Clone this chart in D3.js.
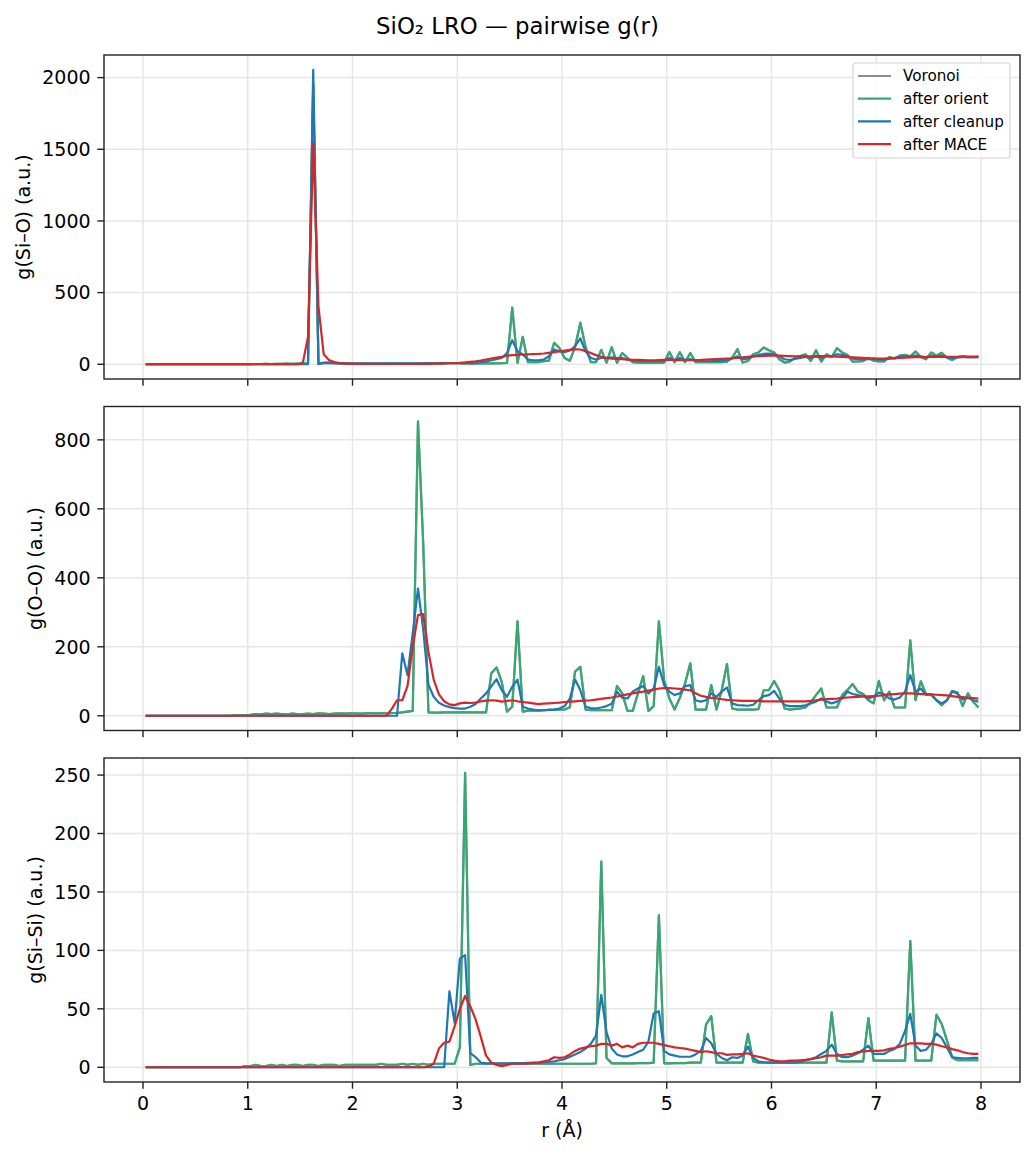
<!DOCTYPE html>
<html><head><meta charset="utf-8">
<script src="https://cdn.jsdelivr.net/npm/d3@7"></script>
<style>
body{margin:0;background:#fff}
svg{display:block}
text{font-family:"DejaVu Sans",sans-serif;fill:#000}
</style>
</head><body>
<svg id="chart" width="1035" height="1157"></svg>
<script>
// ---------- DATA ----------
// histogram bins: centres from 0.025 Å, width 0.05 Å, 160 bins
const binStart = 0.025, binWidth = 0.05, nBins = 160;
const rBins = d3.range(nBins).map(i => +(binStart + binWidth * i).toFixed(3));

const seriesNames = ["Voronoi", "after orient", "after cleanup", "after MACE"];
const xTicks = [0, 1, 2, 3, 4, 5, 6, 7, 8];
const ticksSiO = [0, 500, 1000, 1500, 2000];
const ticksOO = [0, 200, 400, 600, 800];
const ticksSiSi = [0, 50, 100, 150, 200, 250];

// ---- g(Si-O) ----
const orientSiO = [
0,0,0,0,0,0,0,0,0,0,
0,0,0,0,0,0,0,0,0,1,
1,2,2,3,2,3,3,4,3,4,
5,8,1950,5,8,10,8,6,6,5,
5,4,5,4,5,4,5,4,5,5,
5,5,6,5,6,6,7,6,7,8,
6,5,6,5,6,6,7,6,7,9,
395,9,191,14,14,15,21,25,150,114,
44,25,120,290,120,15,15,100,12,119,
9,79,44,15,12,12,12,12,12,12,
86,15,84,15,79,15,15,14,14,15,
15,19,47,105,12,23,70,82,117,98,
82,35,12,19,47,58,70,23,98,19,
70,51,112,82,65,19,20,22,45,25,
20,20,50,40,60,65,55,89,50,35,
82,60,80,45,30,50,55,50,50,50];
const cleanupSiO = [
0,0,0,0,0,0,0,0,0,0,
0,0,0,0,0,0,0,0,0,0,
0,0,0,0,0,0,0,0,0,0,
0,0,2055,0,12,12,8,6,5,5,
5,5,6,5,6,5,6,6,7,6,
6,7,6,7,8,8,8,9,9,9,
9,9,10,12,15,20,28,36,44,79,
168,91,68,33,28,28,33,56,103,91,
84,96,126,180,91,44,33,44,44,49,
44,44,33,26,22,21,21,21,21,22,
44,28,44,30,37,25,22,21,22,24,
26,28,40,55,35,40,55,65,72,74,
70,55,35,30,38,45,52,45,55,45,
55,55,70,65,58,40,35,33,38,35,
32,32,40,45,52,55,55,60,55,48,
58,55,60,50,42,48,50,50,50,52];
const maceSiO = [
0,0,0,0,0,0,0,0,0,0,
0,0,0,0,0,0,0,0,0,0,
0,0,0,0,0,0,0,0,0,0,
8,190,1540,400,70,30,15,8,5,4,
3,3,2,2,2,2,2,2,2,2,
2,2,3,3,3,4,5,6,7,8,
10,13,17,21,26,33,40,46,52,60,
64,66,68,70,71,72,75,80,85,90,
95,100,104,103,92,78,64,52,44,40,
37,35,33,31,30,29,28,28,29,30,
30,30,29,28,28,29,30,32,34,36,
38,40,42,45,48,52,55,57,58,60,
60,60,58,57,56,55,55,56,57,57,
56,55,54,52,50,48,46,44,42,41,
40,40,41,42,44,46,48,49,50,50,
51,51,52,52,52,52,53,53,54,54];
const voronoiSiO = orientSiO.slice();

// ---- g(O-O) ----
const orientOO = [
0,0,0,0,0,0,0,0,0,0,
0,0,0,0,0,0,0,1,1,2,
3,5,4,6,5,6,5,4,6,5,
5,6,5,7,6,5,6,7,6,7,
7,6,7,8,7,8,7,8,8,10,
12,14,854,500,10,9,9,10,10,10,
10,10,10,10,10,10,123,140,98,12,
26,274,12,15,15,15,16,17,17,18,
18,25,128,142,18,16,16,16,16,16,
86,65,14,14,65,115,14,28,274,103,
50,18,52,94,152,18,18,18,89,18,
74,150,21,18,18,18,18,19,74,74,
101,74,21,18,20,21,24,40,60,79,
24,24,24,60,75,92,70,63,45,36,
101,45,70,24,24,24,219,45,100,63,
60,45,31,45,72,67,28,65,41,24];
const cleanupOO = [
0,0,0,0,0,0,0,0,0,0,
0,0,0,0,0,0,0,0,0,0,
0,0,0,0,0,0,0,0,0,0,
0,0,0,0,0,0,0,0,0,0,
0,0,0,0,0,0,0,0,0,181,
118,240,369,250,90,55,38,30,25,22,
21,21,26,34,50,65,85,106,74,55,
84,105,26,21,18,16,16,17,18,21,
28,50,105,74,26,22,21,24,28,35,
70,52,50,70,79,86,65,79,142,89,
70,60,65,86,89,45,41,45,65,55,
70,82,36,31,30,29,32,45,57,60,
72,50,31,28,28,28,30,36,41,50,
41,36,41,50,70,63,60,57,50,55,
67,63,50,47,53,70,118,70,79,60,
63,45,36,45,70,65,47,53,45,41];
const maceOO = [
0,0,0,0,0,0,0,0,0,0,
0,0,0,0,0,0,0,0,0,0,
0,0,0,0,0,0,0,0,0,0,
0,0,0,0,0,0,0,0,0,0,
0,0,0,0,0,0,0,20,45,45,
86,200,292,295,185,105,62,42,33,31,
36,38,37,38,42,44,45,44,41,43,
45,42,40,38,36,34,35,36,37,38,
40,41,42,43,44,45,47,49,51,53,
56,59,62,65,68,70,73,76,79,80,
80,79,78,76,74,65,58,55,52,50,
48,46,45,44,43,43,43,43,42,42,
42,42,42,42,42,42,42,43,45,47,
48,49,50,52,53,54,55,56,56,57,
58,60,62,63,64,65,65,64,63,63,
62,61,60,59,57,55,54,52,51,50];
const voronoiOO = orientOO.slice();

// ---- g(Si-Si) ----
const orientSiSi = [
0,0,0,0,0,0,0,0,0,0,
0,0,0,0,0,0,0,0,0,1,
1,2,1,1,2,1,2,1,2,2,
1,2,2,1,2,2,2,1,2,2,
2,2,2,2,2,3,2,2,2,3,
2,3,2,3,2,3,3,3,3,3,
17,252,2,3,3,3,3,3,3,3,
3,3,3,3,3,3,3,3,3,3,
3,3,3,3,3,3,3.4,176,8,3.4,
3.4,3.4,3.4,3.4,3.5,3.5,3.5,4,130,3.4,
3.4,3.5,3.5,3.6,4,4,4,36.5,43.7,4,
4,4,4,4,4,28.5,5,4,4,4,
4,4,4,4,4,4,4,4,4,4,
4,47,5.7,5,5,5,5,5,42,5.7,
5.7,5.7,5.7,5.7,5.7,5.7,108,5.7,5.7,5.7,
5.7,45,37,23,8.6,6,6,6,6,6];
const cleanupSiSi = [
0,0,0,0,0,0,0,0,0,0,
0,0,0,0,0,0,0,0,0,0,
0,0,0,0,0,0,0,0,0,0,
0,0,0,0,0,0,0,0,0,0,
0,0,0,0,0,0,0,0,0,0,
0,0,0,0,0,0,0,0,65,38,
93,96,12,8.6,4,3.4,3.4,3.4,3.4,3.4,
3.5,3.5,3.6,3.8,4,4,4.2,4.5,5,6,
7,9,11,13,16,20,27,62,30,16,
11,9.4,9.4,11,13,15,22,46,48,14,
11,10,9,9,9,11,14,25,20.5,11.4,
8,6,8.6,8,10,17.7,8,5,4.3,4,
4,4,4,4,4,4.5,6,7,8.6,11.4,
14,19.4,11.4,8.6,8.6,10,12,15,18.5,11.4,
11.4,11.4,14,15.7,20,31,45.7,18.5,14,15,
20,29,25,17,8.6,8,7.7,7.7,8,8];
const maceSiSi = [
0,0,0,0,0,0,0,0,0,0,
0,0,0,0,0,0,0,0,0,0,
0,0,0,0,0,0,0,0,0,0,
0,0,0,0,0,0,0,0,0,0,
0,0,0,0,0,0,0,0,0,0,
0,0,0,0,0.5,3,16,21,22,35,
50,61,52,41,26,10,4,2,1,2,
3,3,3,3.4,3.6,4,5,6,8.6,8,
8.6,11,14,16,17,18,18.5,20,20,18.5,
20,17,18.5,17,20,21,21,21,20,19,
18,17,16.5,16,15,14,13,13.7,13,12,
12,10.6,11,11,11.4,12,10,9,8,6.6,
5.7,5,5,5.7,5.7,6,6.3,7,7.8,8.6,
10,10,10,10.5,11,11.5,13,13.5,14,14,
14,14.5,15.7,16.5,17.7,19,20.5,20.5,20.5,20,
20,19.4,18,17,15.5,14.5,13,12,11.5,11.4];
const voronoiSiSi = orientSiSi.slice();

// ---------- STYLE / LAYOUT ----------
const colors = ["#8c8c8c", "#36a874", "#1f77b4", "#d62728"];
const W = 1035, H = 1157;
const axLeft = 104, axRight = 1020, axH = 324;
const axTops = [55, 406.5, 758];
const tickFont = 19, labelFont = 19, titleFont = 22.8, legendFont = 15.2;
const tickLen = 6.7, tickPad = 6.7;

const panels = [
  { ylabel: "g(Si–O) (a.u.)", series: [voronoiSiO, orientSiO, cleanupSiO, maceSiO], ticks: ticksSiO, legend: true },
  { ylabel: "g(O–O) (a.u.)", series: [voronoiOO, orientOO, cleanupOO, maceOO], ticks: ticksOO },
  { ylabel: "g(Si–Si) (a.u.)", series: [voronoiSiSi, orientSiSi, cleanupSiSi, maceSiSi], ticks: ticksSiSi, xlabels: true }
];

const svg = d3.select("#chart");
svg.append("rect").attr("width", W).attr("height", H).attr("fill", "#fff");

const rMin = d3.min(rBins), rMax = d3.max(rBins), rPad = (rMax - rMin) * 0.05;
const x = d3.scaleLinear().domain([rMin - rPad, rMax + rPad]).range([axLeft, axRight]);

svg.append("text").attr("x", W / 2).attr("y", 33.5).attr("text-anchor", "middle")
  .style("font-size", titleFont + "px").text("SiO₂ LRO — pairwise g(r)");

panels.forEach((p, pi) => {
  const top = axTops[pi], bottom = top + axH;
  const all = p.series.flat();
  const ymin = Math.min(0, d3.min(all)), ymax = d3.max(all);
  const pad = (ymax - ymin) * 0.05;
  const y = d3.scaleLinear().domain([ymin - pad, ymax + pad]).range([bottom, top]);
  const g = svg.append("g");

  // grid
  g.append("g").selectAll("line").data(xTicks).join("line")
    .attr("x1", d => x(d)).attr("x2", d => x(d)).attr("y1", top).attr("y2", bottom)
    .attr("stroke", "#e6e6e6").attr("stroke-width", 1.5);
  g.append("g").selectAll("line").data(p.ticks).join("line")
    .attr("y1", d => y(d)).attr("y2", d => y(d)).attr("x1", axLeft).attr("x2", axRight)
    .attr("stroke", "#e6e6e6").attr("stroke-width", 1.5);

  // clip
  const cid = "clip" + pi;
  svg.append("clipPath").attr("id", cid).append("rect")
    .attr("x", axLeft).attr("y", top).attr("width", axRight - axLeft).attr("height", axH);

  const line = d3.line().x((d, i) => x(rBins[i])).y(d => y(d));
  const lg = g.append("g").attr("clip-path", `url(#${cid})`);
  p.series.forEach((s, si) => {
    lg.append("path").datum(s).attr("d", line).attr("fill", "none")
      .attr("stroke", colors[si]).attr("stroke-width", 2.2)
      .attr("stroke-linejoin", "round").attr("stroke-linecap", "butt");
  });

  // spines
  g.append("rect").attr("x", axLeft).attr("y", top).attr("width", axRight - axLeft).attr("height", axH)
    .attr("fill", "none").attr("stroke", "#222").attr("stroke-width", 1.4);

  // x ticks
  g.append("g").selectAll("line").data(xTicks).join("line")
    .attr("x1", d => x(d)).attr("x2", d => x(d)).attr("y1", bottom).attr("y2", bottom + tickLen)
    .attr("stroke", "#222").attr("stroke-width", 1.4);
  if (p.xlabels) {
    g.append("g").selectAll("text").data(xTicks).join("text")
      .attr("x", d => x(d)).attr("y", bottom + tickLen + tickPad + tickFont * 0.76)
      .attr("text-anchor", "middle").style("font-size", tickFont + "px").text(d => d);
    g.append("text").attr("x", (axLeft + axRight) / 2).attr("y", 1137)
      .attr("text-anchor", "middle").style("font-size", labelFont + "px").text("r (Å)");
  }

  // y ticks
  g.append("g").selectAll("line").data(p.ticks).join("line")
    .attr("x1", axLeft - tickLen).attr("x2", axLeft).attr("y1", d => y(d)).attr("y2", d => y(d))
    .attr("stroke", "#222").attr("stroke-width", 1.4);
  const tl = g.append("g").selectAll("text").data(p.ticks).join("text")
    .attr("x", axLeft - tickLen - tickPad).attr("y", d => y(d) + tickFont * 0.36)
    .attr("text-anchor", "end").style("font-size", tickFont + "px").text(d => d);
  let maxW = 0;
  tl.each(function () { maxW = Math.max(maxW, this.getComputedTextLength()); });
  const labX = axLeft - tickLen - tickPad - maxW - 7.6 - labelFont * 0.24;
  g.append("text").attr("transform", `translate(${labX},${top + axH / 2}) rotate(-90)`)
    .attr("text-anchor", "middle").style("font-size", labelFont + "px").text(p.ylabel);

  // legend
  if (p.legend) {
    const lx = 853, ly = 63, lw = 157, lh = 95, rowH = 22.7, row0 = 76;
    const leg = g.append("g");
    leg.append("rect").attr("x", lx).attr("y", ly).attr("width", lw).attr("height", lh)
      .attr("rx", 3).attr("fill", "#fff").attr("fill-opacity", 0.8)
      .attr("stroke", "#d4d4d4").attr("stroke-width", 1.2);
    seriesNames.forEach((n, i) => {
      const yy = row0 + i * rowH;
      leg.append("line").attr("x1", lx + 5).attr("x2", lx + 38).attr("y1", yy).attr("y2", yy)
        .attr("stroke", colors[i]).attr("stroke-width", 2.2);
      leg.append("text").attr("x", lx + 50).attr("y", yy + legendFont * 0.36)
        .style("font-size", legendFont + "px").text(n);
    });
  }
});
</script>
</body></html>
